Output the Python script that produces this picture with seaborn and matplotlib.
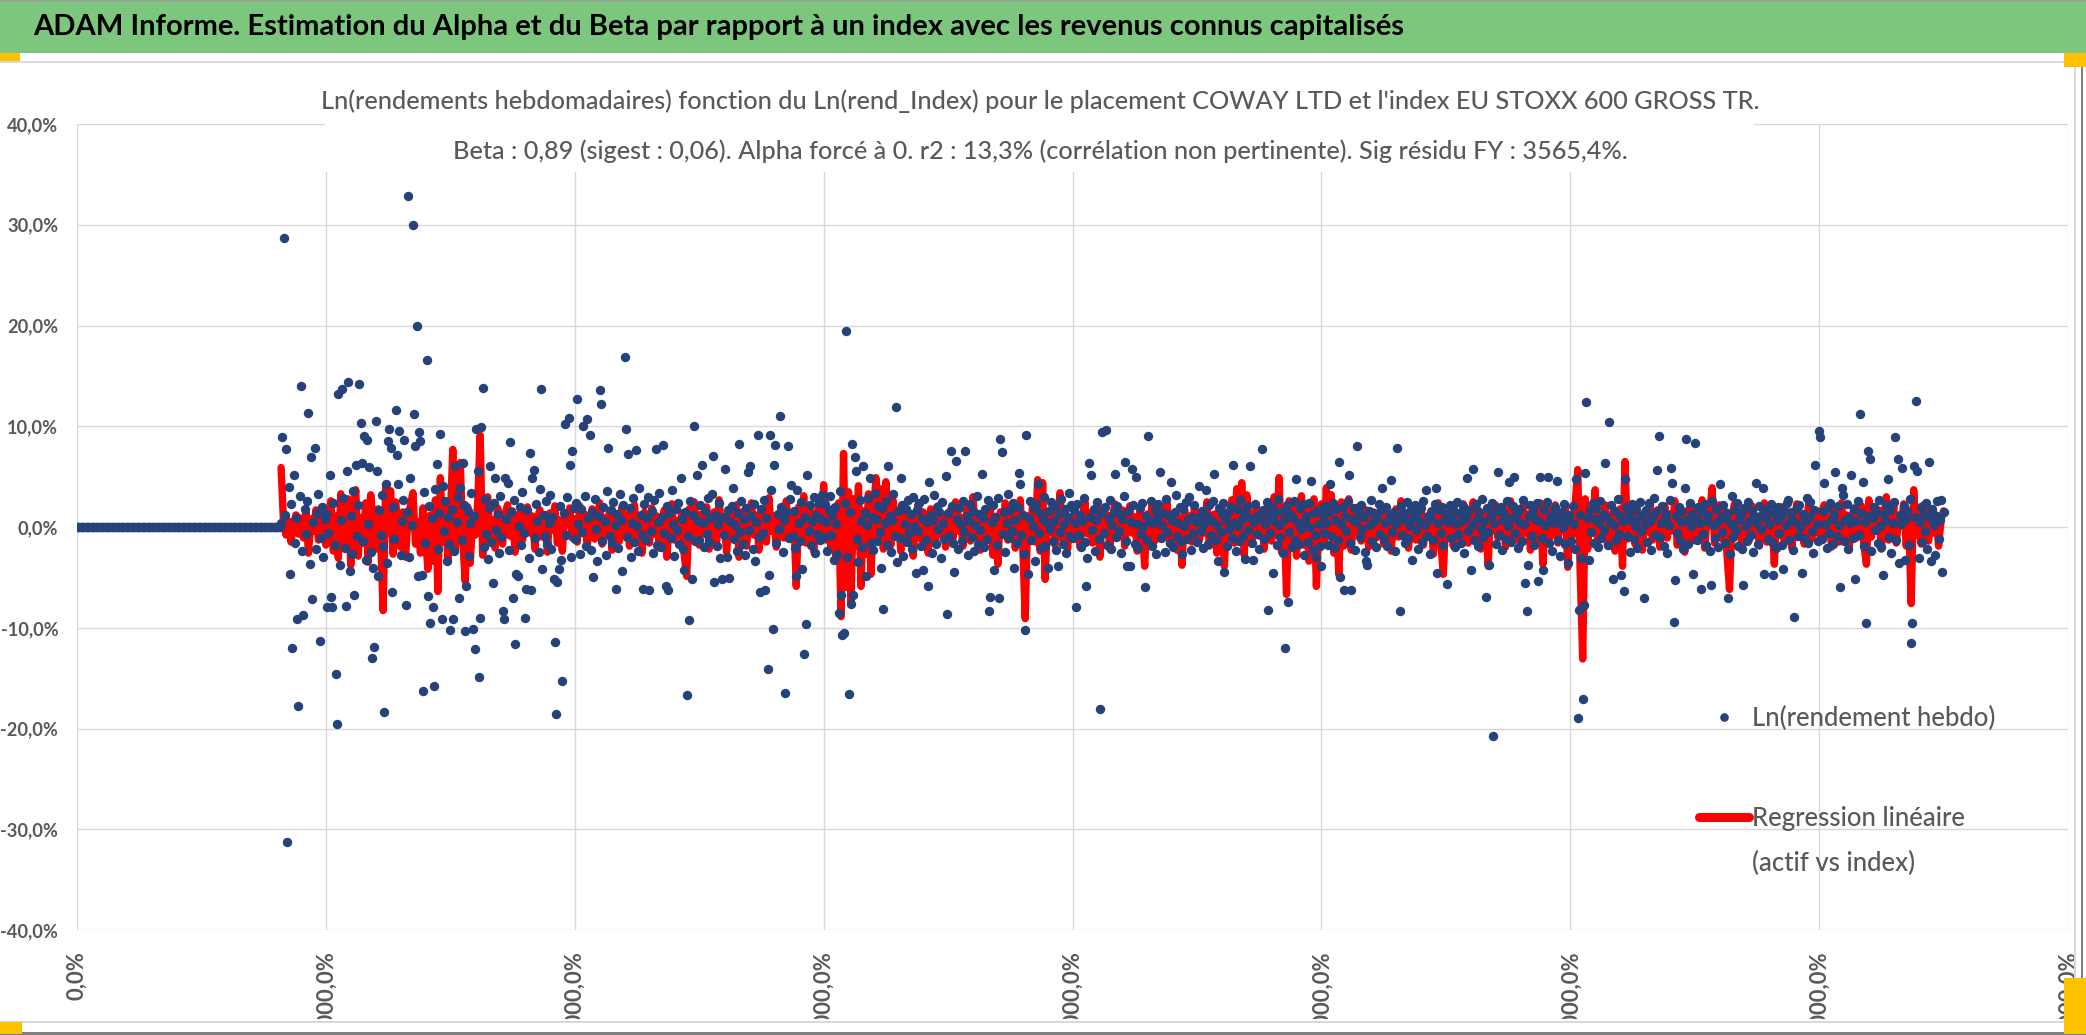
import numpy as np
import pandas as pd
import seaborn as sns
import matplotlib.pyplot as plt
from matplotlib.patches import Rectangle
from matplotlib.lines import Line2D
from matplotlib.transforms import Bbox, TransformedBbox

# weekly log-returns of the asset, in %, week 164 .. 1500 (weeks 0..163 are zero)
lead_zero_weeks = 164
ret_164 = [0.4, 8.9, 28.7, 1.2, 7.7, -31.3, 4.0, -4.7, 2.3, -12.0, 5.2, -1.6, 0.9, -9.1, -17.8, 3.1, 14.0, -2.4,
           -8.7, 1.8, -0.7, 2.6, 11.3, -3.7, 6.9, -7.1, 0.5, 7.8, -2.2, 1.4, 3.3, -11.3, -1.1, 2.0, -3.0, 0.8]
ret_200 = [1.3, -7.9, -0.6, 5.2, -6.9, -7.9, 2.4, -1.8, -14.6, -19.6, 13.2, -3.8, 0.7, 13.7, 2.9, -2.1, -7.8, 5.6, 14.4, -4.4,
           1.1, -2.7, 3.6, -6.7, 6.2, -0.9, 2.2, 14.2, 10.3, 6.4, -1.4, 9.0, -3.3, 8.6, 0.3, 6.0, -2.5, -13.0, -4.1, -11.9,
           10.5, 5.6, -4.9, 1.7, -0.8, 3.2, -1.9, -18.4, 4.3, -3.6, 8.5, 9.7, 7.8, -6.5, 2.0, -1.2, 11.6, 7.1, 4.3, 9.5,
           -2.8, 0.6, 2.7, 8.6, -7.7, 1.5, 32.9, -3.0, 4.9, 0.2, 30.0, 11.2, 8.0, 20.0, -4.9, 9.4, 8.5, -4.8, -16.3, 3.5,
           -1.6, 16.6, -6.8, 2.1, -9.5, 0.9, -7.9, -15.8, 3.8, 6.3, -2.2, 1.4, 9.2, -9.1, 4.1, -0.4, 2.6, -3.4, 1.0, -1.7]
ret_300 = [-10.2, 1.8, -9.1, -2.4, 6.1, 0.5, 3.0, -7.0, 3.9, -1.3, 6.4, 2.2, -10.3, -5.9, 1.6, -2.9, 0.4, 3.4, -10.1, 1.1,
           -12.1, 9.7, 5.6, -14.9, -9.0, 9.9, 13.8, -2.0, 2.8, -0.7, -3.2, 1.9, 6.1, -1.5, -5.6, 2.4, 4.9, -0.3, 1.3, -2.6,
           3.1, -1.0, -8.3, -9.1, 4.9, 0.8, 4.4, -2.3, 8.4, 1.5, -7.0, 2.7, -11.6, -4.7, -4.9, 0.1, 2.0, -1.8, 3.5, -0.6,
           -9.0, -6.2, 1.7, -3.1, 7.3, -6.3, 4.9, 5.7, -1.1, 2.3, 0.6, -2.5, 3.8, 13.7, -4.2, 1.2, -0.9, 2.6, -1.7, 0.4,
           3.2, -2.2, 1.0, -5.2, -11.4, -18.6, -5.5, -4.2, 2.1, -3.3, -15.3, 1.4, 10.2, -0.8, 3.0, 10.8, 6.2, -3.0, 7.5, 1.9]
ret_400 = [-1.2, 2.4, 12.7, 0.3, -2.7, 1.8, -0.5, 10.0, 3.1, -1.9, 10.7, 0.9, 9.1, -2.3, 1.5, -5.0, 2.8, -0.2, -3.4, 1.1,
           13.6, 12.2, -1.4, 2.0, 0.6, -2.8, 3.6, 7.8, -0.9, 1.7, -1.6, 2.5, 0.2, -6.2, 1.3, -2.1, 3.3, 0.7, -4.4, 2.2,
           16.9, 9.7, -1.0, 7.2, 1.9, -3.0, 0.4, 2.9, -1.5, 7.6, 0.1, -2.4, 3.9, 1.2, -0.8, -6.2, 2.3, -1.3, 0.9, 3.0,
           -6.3, -0.4, 1.6, -2.6, 2.7, 7.7, -1.8, 0.5, 3.4, -2.0, 1.0, 8.1, -0.6, -5.9, 2.1, -6.3, 1.4, -1.1, 3.7, 0.3,
           -2.9, 1.8, -0.3, 2.4, -1.7, 4.9, 0.8, -2.2, -4.3, 1.5, -16.7, -0.9, -9.2, 2.6, -5.2, 1.2, 10.0, -1.4, 5.2, 0.6]
ret_500 = [-1.3, 2.2, 6.2, 0.4, -2.0, 1.6, -0.7, 2.9, -1.5, 0.9, 3.3, 7.0, -5.5, 1.2, -1.9, 0.3, 2.4, -3.1, -5.2, 1.0,
           -0.8, 5.8, -3.0, 1.7, -5.1, 0.6, 2.1, 3.9, -1.2, 0.2, -2.4, 1.4, 8.2, -0.5, 2.6, -1.7, 0.8, -2.8, 1.9, 5.5,
           -0.3, 6.1, 1.1, -2.2, 2.3, -3.4, 0.5, 9.1, -1.0, -6.5, 1.8, -0.6, 2.7, -6.3, 0.9, -14.1, -4.8, 9.1, 3.7, -10.1,
           6.2, 8.1, -1.6, 1.3, -0.2, 11.0, 2.0, -2.5, 0.7, -16.5, 1.5, 8.0, -1.1, 2.8, 4.2, -0.9, 1.6, -2.1, -4.9, 3.7,
           0.4, -1.4, 2.5, -4.2, -12.6, 1.0, -9.6, 5.2, -0.4, 2.2, -1.8, 0.6, 3.0, -2.6, 1.2, -0.7, 2.4, -1.3, 0.8, 3.2]
ret_600 = [-1.0, 2.3, 0.5, -2.4, 1.7, 3.1, -0.8, 1.2, -3.3, 2.0, 0.3, -2.7, -8.5, 3.6, -6.7, -10.7, -10.5, 2.4, 19.5, -3.0,
           -16.6, 1.5, -7.6, 8.2, -6.7, 6.9, 5.6, -1.2, -3.5, 2.7, 0.6, -2.0, 6.1, 1.4, -4.9, 0.2, 2.9, 4.9, -1.6, 1.0,
           -2.3, 3.4, 0.8, -1.4, 2.1, -0.5, -4.1, 1.9, -8.1, 0.4, 2.6, -1.8, 6.1, 1.1, -2.5, 0.7, 3.3, -0.9, 11.9, -3.5,
           1.6, -1.1, 4.9, 2.2, -2.9, 0.3, 1.8, -1.5, 2.7, -0.6, 1.3, -2.2, 3.0, 0.1, -4.6, 1.7, -0.4, 2.4, -1.9, 0.9,
           -4.3, 2.8, -1.3, 0.5, -5.9, 4.5, 1.2, -2.6, 0.7, 3.2, -1.7, 2.0, -0.2, 1.5, -3.1, 2.5, 0.4, -1.2, 5.1, -8.6]
ret_700 = [1.4, -0.9, 7.5, 2.1, -1.6, -4.5, 6.6, 0.8, -2.2, 1.9, 0.3, -1.4, 2.6, -0.5, 7.5, 1.1, -2.8, 0.6, 2.3, -1.0,
           1.6, -2.4, 0.2, 3.1, -1.7, 1.3, -0.3, 5.3, 0.9, -2.0, 1.8, -1.2, 2.7, -8.3, -6.9, 0.5, 2.2, -4.3, 1.0, -1.8,
           2.9, -7.0, 8.7, 7.4, -0.7, 1.5, -2.5, 0.4, 3.3, -1.1, 1.7, -0.4, 2.4, -4.1, 0.7, -1.6, 2.0, 5.4, 4.3, -0.8,
           1.2, -2.7, -10.2, 9.1, -4.7, 0.9, 2.6, -1.3, 0.1, 1.9, -3.4, 2.3, 4.3, -0.6, 1.4, -2.1, 0.8, 3.0, -1.9, 0.5,
           -4.1, 1.6, -0.2, 2.5, -1.4, 0.6, 2.1, -2.3, -3.9, 1.3, -0.5, 2.8, -1.7, 0.3, 1.8, -2.6, 1.0, 3.4, -0.9, 2.2]
ret_800 = [-1.1, 1.7, 0.4, -7.9, 2.3, -0.8, 1.2, -2.0, 0.6, 2.9, -1.5, -5.9, -3.1, 6.4, 1.0, 5.2, -0.3, 1.8, -2.4, 0.7,
           2.5, -1.2, -18.1, 1.4, 9.4, -0.6, 2.0, 9.6, -1.8, 0.9, 2.7, -2.2, 0.2, 1.5, 5.3, -1.0, 2.1, -0.4, 1.3, -2.6,
           0.8, 3.1, 6.5, -1.4, -3.9, 1.6, -3.9, 0.5, 5.8, 2.2, -1.7, 5.0, 0.3, -2.1, 1.9, -0.7, 2.4, 0.1, -6.0, 1.1,
           -1.3, 9.0, 0.6, 2.6, -1.9, 0.4, 1.7, -2.7, 0.9, 2.3, 5.5, -1.1, 0.2, 1.4, -2.5, 2.8, -0.5, 1.2, -1.6, 4.5,
           0.7, -2.0, 1.5, 3.2, -0.9, 0.4, 2.0, -1.4, -2.7, 1.8, 0.1, 2.5, -1.2, 0.8, 3.0, -2.3, 1.0, -0.6, 2.2, 0.5]
ret_900 = [-1.5, 0.9, 4.1, -0.4, 1.6, -2.1, 0.3, 3.7, 1.1, -1.7, 2.2, -0.8, 0.6, 2.6, 5.3, -1.3, 0.2, -3.4, 1.9, -0.5,
           1.3, 2.4, -4.5, 0.7, -1.9, 1.5, -0.2, 2.0, -1.1, 6.2, 0.4, -2.4, 1.8, 0.1, -1.4, 2.7, 0.8, -0.9, 1.4, -3.2,
           2.1, -0.3, 1.0, 6.1, -1.6, -3.3, 0.5, 2.3, -0.7, 1.2, -2.2, 0.9, 7.7, 1.7, -1.2, 0.3, 2.5, -8.2, 1.1, -0.6,
           2.0, -4.6, 0.6, 1.5, -1.8, 2.8, 0.2, -1.0, 1.6, -2.6, 0.7, -12.0, 2.2, -7.4, -0.5, 1.3, -2.0, 0.9, 2.6, -1.3,
           4.8, 0.4, -1.7, 1.9, -0.2, 2.3, -2.8, 0.6, 1.1, -1.5, 2.4, 0.0, 4.6, -2.3, 1.4, -0.8, -3.0, 1.7, 0.3, -1.9]
ret_1000 = [-3.9, 1.2, -0.6, 2.1, 0.4, -1.8, 1.5, 4.3, -0.9, 2.4, -2.1, 0.7, 1.8, -1.3, 6.5, -5.0, 0.3, 2.0, -6.3, 1.1,
            -0.4, 2.6, 5.2, -1.6, -6.3, 0.8, 1.9, -2.3, 0.5, 8.0, 1.4, -1.0, 2.2, -0.2, 1.0, -2.5, -3.4, -3.8, 1.6, 0.2,
            2.7, -1.4, 0.6, 1.3, -2.0, 0.9, 2.3, -0.7, 1.7, 3.9, -1.2, 0.4, 2.0, -1.9, 0.7, 1.2, 4.7, -0.5, 1.5, -2.4,
            0.3, 7.8, 1.0, -8.3, 2.1, -0.8, 1.4, -1.6, 0.6, 2.5, -1.1, 0.1, 1.8, -3.3, 0.9, 2.2, -0.3, 1.3, -2.2, 0.5,
            1.9, -1.5, 2.6, 0.2, 3.7, -0.9, 1.1, -2.7, 0.8, 1.6, -1.3, 2.3, 3.9, -4.6, 0.4, 1.7, -0.6, 2.0, -1.8, 0.7]
ret_1100 = [1.3, -5.7, 0.5, 2.2, -1.1, 0.9, 1.8, -2.0, 0.3, 2.5, -0.7, 1.4, -1.6, 0.6, 2.1, -2.6, 1.0, 4.9, -0.4, 1.7,
            -4.3, 0.2, 5.8, -1.3, 2.3, 0.8, -1.9, 1.5, -0.2, 2.8, -1.0, 0.6, -6.9, 1.9, -0.5, -3.8, 1.2, 2.4, -20.7, 0.4,
            -1.7, 1.6, 5.5, -0.8, 2.0, -2.3, 0.7, 1.3, -1.2, 2.6, 0.1, 4.5, -1.5, 0.9, 2.1, 5.0, -0.6, 1.4, -2.1, 0.5,
            1.8, -1.4, 2.7, 0.3, -5.6, -8.3, -3.8, 1.1, 2.2, -0.9, 1.6, -1.8, 0.8, 2.4, -5.4, 0.6, 5.0, -1.1, -4.3, 1.7,
            0.2, 2.5, 5.0, -1.6, 0.9, -2.4, 1.3, 0.4, 2.0, 4.6, -1.3, 0.7, -2.9, 1.5, 0.0, 2.3, -1.7, 0.8, -3.6, 1.2]
ret_1200 = [0.6, -1.4, 2.1, 0.3, -2.2, 4.8, -19.0, -8.2, 1.2, -3.1, -17.1, -7.7, 5.4, 12.4, 0.9, -3.3, 1.7, -0.5, 2.4, -1.6,
            0.8, 1.9, -2.0, 0.4, 2.6, -1.1, 1.3, -0.3, 6.4, 1.0, -1.8, 10.4, 0.5, 2.2, -5.2, 0.2, 1.6, -1.3, 2.8, -0.7,
            1.1, -4.8, 0.6, -6.4, 4.8, 2.0, -0.9, 1.4, -2.5, 0.7, 2.3, -1.2, 0.1, 1.8, -2.1, 0.9, 2.5, -0.4, 1.2, -7.0,
            0.3, 1.7, -1.5, 2.4, 0.6, -2.3, 1.0, 2.9, -0.8, 1.5, 5.7, 9.0, -1.0, 0.4, 2.1, -1.9, 0.8, 1.3, -2.6, 0.2,
            2.7, 5.9, 4.4, -9.4, -5.3, 1.1, -0.6, 2.0, -1.4, 0.5, 1.6, -2.2, 3.9, 8.7, 0.7, -1.7, 2.4, 0.1, 1.3, -4.7]
ret_1300 = [8.3, 0.9, -1.3, 2.0, 0.4, -6.2, 1.5, -0.7, 2.3, -1.8, 0.6, 1.2, -2.4, -5.8, 2.6, 0.2, -1.1, 1.8, 0.5, -2.0,
            4.3, 1.0, -0.5, 2.2, -1.6, 0.8, 1.4, -7.0, -2.7, 0.3, 3.1, -1.0, 1.7, -0.3, 2.4, -1.9, 0.7, 1.3, -2.2, -5.8,
            1.9, 0.1, -1.4, 2.5, 0.6, -0.8, 1.6, -2.5, 1.1, 4.4, 0.4, -1.7, 2.1, -0.2, 1.2, 3.9, -4.7, 0.9, 1.8, -1.2,
            0.3, 2.3, -1.5, -4.8, 1.4, -2.1, 0.7, 2.0, -0.6, 1.1, -1.8, -4.2, 1.6, 0.2, 2.4, 2.7, -1.3, 0.8, 1.5, -2.3,
            -8.9, 0.5, 1.9, -0.9, 2.2, 0.0, -4.6, 1.3, -1.1, 0.6, 2.9, -1.6, 1.0, 2.5, -0.4, -2.6, 1.7, 6.2, 0.3, -1.4]
ret_1400 = [9.5, 8.9, -1.2, 1.6, 4.4, 0.3, -2.1, 1.9, -0.6, 2.4, 0.8, -1.7, 1.2, 5.5, -0.9, 2.1, 0.2, -6.0, 3.9, 3.2,
            -1.4, 0.7, 2.3, -2.2, 1.0, 0.4, 5.2, -1.1, 1.8, -5.2, 0.6, 2.6, -0.8, 11.2, 1.4, 4.5, -1.9, 0.5, -9.5, 7.5,
            1.1, 6.7, -2.4, 0.9, 2.0, -0.3, 1.5, -1.6, 2.7, 0.1, -2.0, -4.8, 1.3, 0.6, 2.2, 4.8, -1.0, 1.7, -2.6, 0.4,
            2.5, 8.9, -1.3, 6.7, -3.6, 1.2, 0.3, 5.9, 2.1, -3.3, 0.8, 1.6, -1.8, 2.8, -11.5, -9.5, 6.1, 1.0, 12.5, 5.6,
            -3.1, 0.5, 2.0, -1.5, 1.3, -0.4, 2.4, -2.2, 6.5, 0.9, -3.4, 1.8, 0.2, -2.8, 1.1, 2.6, -1.2, 0.7, 2.7, -4.5,
            1.5]

# regression line (beta x index return), in %, every 2 weeks from week 164 to 1500
fit_164 = [5.9, 0.4, -0.8, 0.6, -1.5, 0.3, 1.2, -0.7, 0.9, -1.1, 1.5, -2.6, 0.8, -0.4, 1.7, -1.3, 0.5, 2.0,
           -1.8, 0.7, 2.6, -2.4, 1.1, -3.1, 3.3, -1.9, 0.6, 2.8, -3.8, 1.4, 3.7, -2.9, 0.9, -1.6, 2.4, -3.5, 3.2, 0.4,
           -2.2, 1.8, -1.0, -8.3, 3.9, -0.6, 3.6, -2.7, 2.5, 0.3, -2.0, 1.5, -3.0, 0.8, 2.2, 3.4, -1.7, 0.5, -2.6, 1.9,
           -0.9, -4.2, 1.2, -3.4, 2.7, -6.4, 4.9, -1.5, 2.1, -3.2,
           0.6, 7.7, -2.3, 3.1, 6.4, -1.4, -5.4, 2.0, -3.6, 1.1, -0.8, 2.4, 9.1, -2.8, 1.6, 3.0, -1.2, 0.7, -2.1, 1.9,
           0.4, -1.7, 1.3, 2.2, -0.9, 1.6, -2.5, 0.8, 1.4, -1.3, 0.2, 2.0, -0.6, 1.1, -2.2, 0.9, 1.7, -1.0, 0.5, -2.5,
           1.4, -0.3, 2.1, -1.6, 0.7, -2.4, 1.2, 0.3, 1.9, -1.1]
fit_400 = [0.8, -1.5, 2.1, -0.4, 1.3, -2.0, 0.6, 1.8, -1.2, 0.3, 2.4, -1.7, 0.9, -0.5, 1.6, -2.3, 1.0, 0.2, -1.4, 2.0,
           -0.8, 1.2, -1.9, 0.5, 2.2, -1.1, 0.7, -2.6, 1.5, 0.1, -1.6, 1.9, -0.7, 1.1, -2.1, 0.4, 1.7, -3.0, 0.9, 2.3,
           -1.3, 0.6, -0.9, 1.4, -2.8, -4.9, 1.8, -1.0, 2.5, 0.2,
           -1.8, 1.3, -0.6, 2.0, -2.2, 0.8, 1.5, -1.4, 2.7, -0.3, 1.0, -2.5, 0.6, 1.9, -1.2, 2.2, -3.0, 0.9, 1.6, -1.9,
           0.4, 2.4, -0.8, 1.2, -2.3, 0.7, 1.8, -1.5, 2.9, -0.4, 1.1, -2.0, 0.5, 1.7, -1.1, 2.6, -0.9, 0.3, 1.4, -5.9,
           2.0, -0.7, 3.1, -1.6, 0.8, 1.5, -2.4, 0.6, 2.1, -1.0]
fit_600 = [4.2, -1.3, 0.8, -2.1, 1.9, -3.2, 2.4, -8.9, 7.3, -6.0, 3.5, -7.5, 2.8, -1.9, 4.1, -5.9, 1.6, -2.7, 3.3, -4.7,
           0.9, 4.9, -1.4, 3.8, -2.2, 4.5, 0.6, -1.8, 2.6, -0.5, 1.3, -2.4, 2.0, 0.2, -1.6, 1.1, -2.9, 0.7, 2.3, -1.2,
           1.5, -0.3, -2.6, 1.8, 0.4, -1.5, 2.1, -0.7, 1.2, -2.0,
           0.9, 1.7, -1.1, 2.5, -0.4, 1.0, -1.9, 0.6, 2.2, -1.4, 3.0, -0.8, 1.3, -2.3, 0.5, 1.8, -1.0, 2.0, -2.8, 0.3,
           -3.7, 1.5, -0.6, 2.4, -1.3, 0.8, 1.6, -2.1, 0.4, 2.7, -1.7, -9.1, 1.1, -0.9, 2.3, -1.5, 4.7, -2.4, 4.4, -5.2,
           1.2, -0.5, 2.1, -1.8, 0.7, 3.4, -1.2, 1.4, -2.2, 0.9]
fit_800 = [-1.2, 1.6, 0.3, -2.0, 1.1, 2.5, -0.7, 1.4, -1.6, 0.5, 2.0, -3.0, 1.8, -0.4, 1.2, -2.2, 0.8, 2.3, -1.1, 0.4,
           1.7, -1.9, 0.9, 2.1, -0.6, 1.0, -2.4, 1.5, 0.2, -3.9, 1.3, -0.8, 2.2, -1.4, 0.6, 1.9, -1.0, 0.3, 2.4, -1.7,
           0.7, 1.4, -2.3, 0.9, -3.8, 1.8, -0.5, 1.1, -1.5, 2.0,
           0.2, -1.3, 1.6, -0.6, 2.5, -1.9, 0.8, 1.3, -2.6, 0.4, 2.1, -3.9, 1.0, -0.4, 2.7, -1.6, 3.8, -1.1, 4.4, -2.8,
           3.2, 0.5, -1.7, 1.2, 2.0, -0.9, 1.5, -2.2, 0.6, 2.3, -1.4, 3.0, -0.8, 4.9, -2.5, 1.1, -6.7, 2.6, -1.2, 1.8,
           -2.9, 0.7, 3.1, -1.8, 2.2, -3.4, 1.3, 2.8, -5.9, 1.0]
fit_1000 = [2.3, -1.5, 3.9, -0.8, 3.2, -2.6, 1.4, -4.7, 2.5, -1.9, 0.7, 2.8, -2.3, 1.1, -0.5, 2.0, -1.4, 0.6, 1.7, -2.0,
            0.9, 1.5, -1.1, 0.3, 2.2, -1.7, 0.8, 1.3, -2.4, 0.5, 1.8, -1.0, 2.6, -0.6, 1.2, -2.1, 0.4, 1.9, -1.3, 0.7,
            2.1, -1.8, 1.0, -0.2, 1.6, -2.7, 0.9, 2.4, -1.5, -4.7,
            1.3, -0.7, 2.0, -1.9, 0.6, 1.4, -1.2, 2.3, 0.1, -1.6, 1.1, 2.5, -0.9, 1.7, -2.2, 0.5, 1.2, -3.9, 1.8, -0.4,
            2.2, -1.1, 0.8, 1.5, -2.0, 0.3, 2.6, -1.4, 1.0, 0.4, -1.8, 2.1, -0.6, 1.3, -2.3, 0.9, 1.6, -1.2, 2.4, -3.7,
            0.7, 1.9, -1.0, 0.5, 2.2, -1.6, 1.2, -0.3, 2.0, -4.0]
fit_1200 = [1.1, -0.8, 2.3, 5.7, -4.5, -13.1, 2.8, -2.2, 1.6, 0.3, 3.7, -1.5, 1.0, -0.6, 2.2, -1.9, 0.7, 1.4, -2.4, 0.9,
            1.8, -3.9, 6.5, -1.2, 0.5, 2.0, -1.7, 1.1, 0.2, -2.3, 1.5, -0.5, 2.4, -1.3, 0.8, 1.7, -2.0, 0.4, 2.1, -1.1,
            1.3, -0.4, 2.6, -1.8, 0.6, 1.2, -2.5, 0.9, 2.0, -1.4,
            0.3, 1.9, -1.0, 2.7, -2.1, 0.8, 1.4, 3.9, -1.6, 0.5, 2.2, -1.2, 1.6, -2.8, -6.2, 1.0, 2.3, -0.7, 1.5, -2.2,
            0.4, 1.8, -1.3, 2.1, -0.5, 1.1, -1.9, 0.7, 2.4, -1.5, 0.9, 1.3, -3.7, 1.7, -0.8, 2.0, -1.4, 0.6, 1.5, -2.1,
            0.2, 2.3, -1.0, 1.2, -1.7, 0.8, 2.5, -1.2, 1.4, -0.6]
fit_1400 = [1.6, -1.3, 2.2, -0.7, 1.0, -2.0, 1.8, 0.3, -1.5, 2.4, -0.9, 1.2, -2.3, 0.7, 1.9, -1.1, 0.5, 2.1, -1.8, -3.7,
            2.7, -1.0, 1.4, -0.4, 1.7, -2.2, 0.8, 3.0, -1.3, 0.6, 2.0, -1.6, 1.1, 0.2, 2.3, -1.9, 0.9, -7.6, 3.7, -0.8,
            1.5, -1.7, 2.2, 0.4, -1.4, 1.8, -0.6, 1.2, -1.9, 0.7, 1.6]

x_ticks = list(range(0, 1601, 200))
y_ticks = [-0.4, -0.3, -0.2, -0.1, 0.0, 0.1, 0.2, 0.3, 0.4]

TITLE = "ADAM Informe. Estimation du Alpha et du Beta par rapport à un index avec les revenus connus capitalisés"
SUB1 = ("Ln(rendements hebdomadaires) fonction du Ln(rend_Index) pour le placement COWAY LTD "
        "et l'index EU STOXX 600 GROSS TR.")
SUB2 = ("Beta : 0,89 (sigest : 0,06). Alpha forcé à 0. r2 : 13,3% (corrélation non pertinente). "
        "Sig résidu FY : 3565,4%.")
LAB_RET = "Ln(rendement hebdo)"
LAB_FIT = "Regression linéaire"
LAB_FIT2 = "(actif vs index)"

NAVY = "#25437A"
RED = "#FF0000"
GRAY = "#595959"
GRID = "#D9D9D9"
GREEN = "#7DC67E"
YELLOW = "#FFC000"

ret = ([0.0] * lead_zero_weeks + ret_164 + ret_200 + ret_300 + ret_400 + ret_500 + ret_600 + ret_700
       + ret_800 + ret_900 + ret_1000 + ret_1100 + ret_1200 + ret_1300 + ret_1400)
fit = fit_164 + fit_400 + fit_600 + fit_800 + fit_1000 + fit_1200 + fit_1400
df_ret = pd.DataFrame({"semaine": np.arange(len(ret)), "rend": np.array(ret) / 100})
df_fit = pd.DataFrame({"semaine": lead_zero_weeks + 2 * np.arange(len(fit)), "fit": np.array(fit) / 100})

sns.set_theme(style="whitegrid")
plt.rcParams["font.family"] = ["Lato", "DejaVu Sans"]
plt.rcParams["axes.unicode_minus"] = False

W, H = 2086, 1035
fig = plt.figure(figsize=(W / 100, H / 100), dpi=100)
fig.patch.set_facecolor("white")
renderer = fig.canvas.get_renderer()


def fx(px):
    return px / W


def fy(py):
    return 1 - py / H


def fit_size(text, target_px, **kw):
    t = fig.text(0, 0, text, fontsize=10, **kw)
    w = t.get_window_extent(renderer).width
    t.remove()
    return 10 * target_px / w


def box(x0, y0, x1, y1, color, z=1):
    fig.patches.append(Rectangle((fx(x0), fy(y1)), fx(x1) - fx(x0), fy(y0) - fy(y1),
                                 transform=fig.transFigure, facecolor=color, edgecolor="none", zorder=z))


ax = fig.add_axes([fx(77), fy(930), fx(2068) - fx(77), fy(124) - fy(930)])

sns.lineplot(data=df_fit, x="semaine", y="fit", color=RED, linewidth=5.3, estimator=None, sort=False,
             ax=ax, zorder=2, legend=False, solid_joinstyle="round", solid_capstyle="round")
sns.scatterplot(data=df_ret, x="semaine", y="rend", color=NAVY, s=46, linewidth=0, ax=ax, zorder=3, legend=False)

ax.set_xlim(0, 1600)
ax.set_ylim(-0.4, 0.4)
ax.set_xlabel("")
ax.set_ylabel("")
ax.set_axisbelow(True)
ax.grid(True, color=GRID, linewidth=1.0)
for s in ax.spines.values():
    s.set_visible(False)

xfs = fit_size("0,0%", 49, fontweight="bold")
yfs = fit_size("-40,0%", 58, fontweight="bold")
ax.set_xticks(x_ticks)
ax.set_xticklabels([f"{v * 100:.1f}".replace(".", ",") + "%" for v in x_ticks],
                   rotation=90, fontweight="bold", color=GRAY, fontsize=xfs)
ax.set_yticks(y_ticks)
ax.set_yticklabels([f"{v * 100:.1f}".replace(".", ",") + "%" for v in y_ticks],
                   fontweight="bold", color=GRAY, fontsize=yfs)
ax.tick_params(axis="x", length=0, pad=15)
ax.tick_params(axis="y", length=0, pad=13.5)

# the long x labels are cut by the bottom of the chart area, as in the source
clip = TransformedBbox(Bbox.from_extents(0, fy(1019), 1, fy(925)), fig.transFigure)
for lab in ax.get_xticklabels():
    lab.set_clip_box(clip)
    lab.set_clip_on(True)

# legend
lfs = fit_size(LAB_RET, 245, fontweight="medium")
lpx = lfs * 100 / 72
hA = Line2D([], [], marker="o", linestyle="none", color=NAVY, markersize=6.2, markeredgewidth=0)
legA = ax.legend(handles=[hA], labels=[LAB_RET], loc="center left",
                 bbox_to_anchor=(fx(1699), fy(718)), bbox_transform=fig.transFigure,
                 frameon=False, borderpad=0, borderaxespad=0, handlelength=50 / lpx,
                 handletextpad=3 / lpx, prop={"size": lfs, "weight": "medium"}, labelcolor=GRAY)
ax.add_artist(legA)
hB = Line2D([], [], color=RED, linewidth=6.5, solid_capstyle="round")
hC = Line2D([], [], linestyle="none")
ax.legend(handles=[hB, hC], labels=[LAB_FIT, LAB_FIT2], loc="center left",
          bbox_to_anchor=(fx(1699), fy(841)), bbox_transform=fig.transFigure,
          frameon=False, borderpad=0, borderaxespad=0, handlelength=50 / lpx,
          handletextpad=3 / lpx, prop={"size": lfs, "weight": "medium"}, labelcolor=GRAY,
          labelspacing=0.75)

# frame, title bar and subtitle
box(0, 0, W, 53, GREEN)
box(0, 0, W, 2, "#8FA68F")
box(0, 61, 2078, 63, GRID)
box(2074, 63, 2076, 1022, GRID)
box(0, 1021, 2076, 1023, GRID)
box(0, 1032, W, 1035, "#7F7F7F")
box(2081, 63, 2083, 1035, "#7F7F7F")
box(0, 53, 20, 61, YELLOW, 2)
box(2064, 53, W, 67, YELLOW, 2)
box(0, 1022, 22, 1034, YELLOW, 2)
box(2064, 978, W, 1034, YELLOW, 2)
box(325, 66, 1754, 172, "white")

tfs = fit_size(TITLE, 1374, fontweight="bold")
fig.text(fx(33), fy(27), TITLE, ha="left", va="center", fontsize=tfs, fontweight="bold", color="black", zorder=3)
sfs = fit_size(SUB2, 1174, fontweight="medium")
fig.text(fx(1040), fy(101), SUB1, ha="center", va="center", fontsize=sfs, fontweight="medium", color=GRAY, zorder=3)
fig.text(fx(1040), fy(151), SUB2, ha="center", va="center", fontsize=sfs, fontweight="medium", color=GRAY, zorder=3)

fig.savefig("out.png", dpi=100)
